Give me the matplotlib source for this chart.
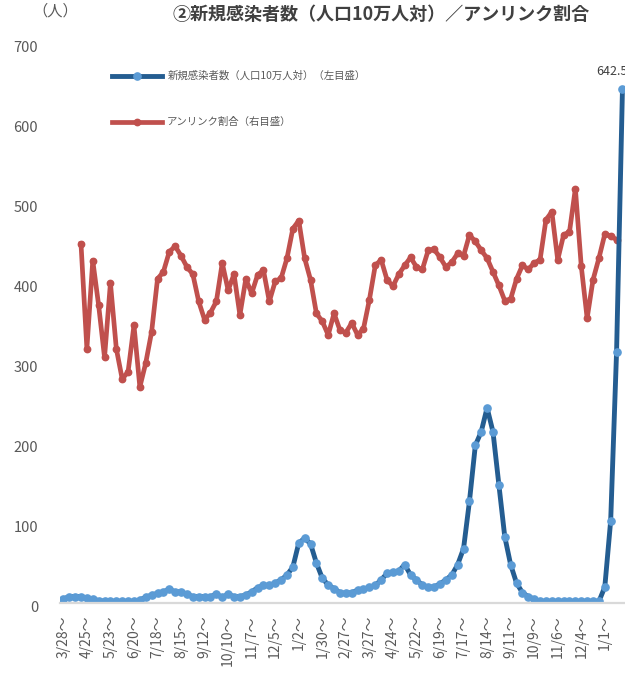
import matplotlib
matplotlib.use('Agg')
import matplotlib.pyplot as plt
from matplotlib.transforms import ScaledTranslation

plt.rcParams['font.family'] = ['Noto Sans CJK JP', 'DejaVu Sans']

title = '②新規感染者数（人口10万人対）／アンリンク割合'
label_cases = '新規感染者数（人口10万人対）（左目盛）'
label_unlinked = 'アンリンク割合（右目盛）'

# weekly new cases per 100k (left axis), from week of 3/28
new_cases = [5, 8, 8, 8, 6, 5, 3, 2, 2, 2, 2, 2, 2, 4, 7, 10, 12, 14, 17, 14,
             14, 11, 8, 8, 8, 8, 11, 7, 11, 8, 8, 10, 14, 19, 22, 22, 25, 29, 35, 45,
             75, 81, 74, 50, 31, 22.5, 18, 13, 12, 13, 16, 17, 20, 22, 29, 37, 39, 40, 48, 35,
             29, 22.5, 20, 20, 24, 29, 35, 48, 68, 127, 197, 214, 244, 214, 148, 83, 48, 25, 13, 8,
             5, 2, 2, 2, 2, 2, 2, 2, 2, 2, 2, 2, 20, 103, 314, 642.5]

# unlinked ratio in % (right axis), starts at the 4th week
unlinked_start = 3
unlinked = [44.9, 31.8, 42.8, 37.2, 30.7, 40.0, 31.8, 28.0, 28.9, 34.7, 27.0, 30.0, 33.9, 40.5, 41.4,
            43.9, 44.6, 43.4, 42.0, 41.1, 37.7, 35.4, 36.3, 37.7, 42.5, 39.1, 41.1, 36.0, 40.5, 38.7,
            41.0, 41.6, 37.7, 40.2, 40.6, 43.1, 46.8, 47.8, 43.1, 40.4, 36.2, 35.2, 33.5, 36.2, 34.1,
            33.8, 35.0, 33.5, 34.3, 37.9, 42.2, 42.9, 40.4, 39.6, 41.1, 42.2, 43.2, 42.0, 41.7, 44.1,
            44.2, 43.2, 42.0, 42.6, 43.7, 43.4, 46.0, 45.2, 44.1, 43.1, 41.4, 39.7, 37.8, 38.0, 40.5,
            42.2, 41.7, 42.5, 42.9, 47.9, 48.9, 42.9, 46.0, 46.4, 51.8, 42.1, 35.6, 40.4, 43.1, 46.1,
            45.9, 45.4]

tick_labels = ['3/28～', '4/25～', '5/23～', '6/20～', '7/18～', '8/15～', '9/12～', '10/10～',
               '11/7～', '12/5～', '1/2～', '1/30～', '2/27～', '3/27～', '4/24～', '5/22～',
               '6/19～', '7/17～', '8/14～', '9/11～', '10/9～', '11/6～', '12/4～', '1/1～']
tick_step = 4

W, H = 625, 677
fig = plt.figure(figsize=(W / 100, H / 100), dpi=100)
ax = fig.add_axes([60.4 / W, 1 - 603 / H, 565 / W, 560 / H])
ax2 = ax.twinx()
ax.set_zorder(ax2.get_zorder() + 1)
ax.patch.set_visible(False)

x_cases = list(range(len(new_cases)))
x_unlinked = list(range(unlinked_start, unlinked_start + len(unlinked)))

blue_line, = ax.plot(x_cases, new_cases, color='#245D91', lw=3.5, marker='o', ms=5.2,
                     mfc='#5B9BD5', mec='#5B9BD5', solid_joinstyle='round', label=label_cases)
red_line, = ax2.plot(x_unlinked, unlinked, color='#C0504D', lw=3.4, marker='o', ms=4.6,
                     mfc='#C0504D', mec='#C0504D', solid_joinstyle='round', label=label_unlinked)

ax.set_xlim(-0.5, len(new_cases) - 0.5)
ax.set_ylim(0, 700)
ax2.set_ylim(0, 70)
ax.set_yticks(range(0, 701, 100))
ax.set_xticks(range(0, len(tick_labels) * tick_step, tick_step))
ax.set_xticklabels(tick_labels, rotation=90, va='top', ha='center')
ax.tick_params(axis='x', length=0, pad=9, labelsize=10, labelcolor='#595959')
ax.tick_params(axis='y', length=0, pad=16, labelsize=10.5, labelcolor='#595959')
ax2.set_yticks([])

# excel draws the value labels a little below their gridline
shift = ScaledTranslation(0, -3 / 100, fig.dpi_scale_trans)
for lab in ax.get_yticklabels():
    lab.set_transform(lab.get_transform() + shift)

for s in ['top', 'right', 'left']:
    ax.spines[s].set_visible(False)
    ax2.spines[s].set_visible(False)
ax.spines['bottom'].set_color('#D9D9D9')
ax.spines['bottom'].set_linewidth(1.6)
ax2.spines['bottom'].set_visible(False)

ax.annotate(f'{new_cases[-1]:g}', (x_cases[-1], new_cases[-1]), xytext=(-11, 11),
            textcoords='offset pixels', ha='center', va='bottom', fontsize=9, color='#404040')

fig.text(381 / W, 1 - 14 / H, title, ha='center', va='center', fontsize=13,
         fontweight='bold', color='#404040')
fig.text(55 / W, 1 - 11 / H, '（人）', ha='center', va='center', fontsize=11, color='#595959')

leg = fig.legend(handles=[blue_line, red_line], loc='upper left',
                 bbox_to_anchor=(112 / W, 1 - 71 / H), frameon=False, fontsize=7.5,
                 handlelength=4.8, handletextpad=0.5, labelspacing=3.45, borderpad=0,
                 borderaxespad=0)
for t in leg.get_texts():
    t.set_color('#595959')

fig.savefig('out.png', dpi=100)
